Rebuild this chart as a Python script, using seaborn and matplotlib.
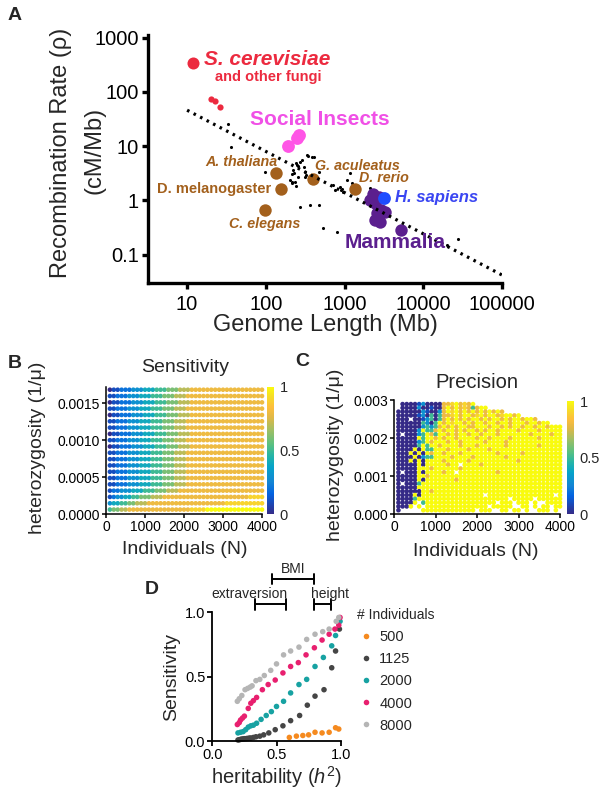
import numpy as np
import pandas as pd
import matplotlib
matplotlib.use("Agg")
import matplotlib.pyplot as plt
import seaborn as sns
from matplotlib.colors import LinearSegmentedColormap, Normalize
from matplotlib.cm import ScalarMappable

sns.set_style("ticks")
plt.rcParams['font.family'] = ['Liberation Sans', 'DejaVu Sans']
plt.rcParams['mathtext.fontset'] = 'custom'
plt.rcParams['mathtext.rm'] = 'Liberation Sans'
plt.rcParams['mathtext.it'] = 'Liberation Sans:italic'

# ---------------- Panel A data ----------------
fungi_big_x = [12]
fungi_big_y = [336]
fungi_small_x = [19.9, 22.8, 26]
fungi_small_y = [74, 68, 52]
insects_x = [190, 249, 267]
insects_y = [10.2, 14.3, 16]
brown_x = [134, 158, 99, 401, 1355]
brown_y = [3.15, 1.64, 0.67, 2.5, 1.6]
human_x = [3160]
human_y = [1.12]
mammal_x = [2330, 2760, 2470, 2920, 2470, 2860, 3270, 5140, 2085, 2610]
mammal_y = [1.31, 1.17, 0.88, 0.66, 0.43, 0.40, 0.62, 0.28, 1.0, 0.58]
other_x = [35.8, 33, 97, 218, 273, 362, 470, 526, 798, 342, 405, 273, 244, 305, 218,
           258, 324, 218, 480, 713, 754, 1186, 1060, 1254, 2083, 27300, 19900, 331, 383,
           286, 247, 223, 316, 316, 236, 204, 230, 240, 259, 880, 900, 930, 950]
other_y = [9.8, 25.5, 3.4, 2.2, 0.76, 0.82, 0.82, 0.31, 0.26, 6.6, 6.4, 5.2, 4.8, 4.2, 3.1,
           2.7, 2.9, 2.06, 3.4, 1.92, 1.55, 3.15, 2.37, 2.06, 1.66, 0.196, 0.15, 6.9, 6.4,
           5.5, 4.5, 3.6, 3.4, 2.7, 2.2, 2.37, 3.15, 1.86, 4.3, 1.75, 1.55, 1.65, 1.45]
trend_x = [10, 100000]
trend_y = [46, 0.042]

# ---------------- Panel B data (sensitivity grid) ----------------
b_n = [100, 200, 300, 400, 500, 600, 700, 800, 900, 1000, 1100, 1200, 1300, 1400,
       1500, 1600, 1700, 1800, 1900, 2000, 2100, 2200, 2300, 2400, 2500, 2600, 2700,
       2800, 2900, 3000, 3100, 3200, 3300, 3400, 3500, 3600, 3700, 3800, 3900, 4000]
b_het = [0.001683, 0.001598, 0.001512, 0.001427, 0.001341, 0.001256, 0.001170,
         0.001085, 0.001000, 0.000914, 0.000829, 0.000743, 0.000658, 0.000572,
         0.000487, 0.000402, 0.000316, 0.000231, 0.000145, 0.000060]
# one char per cell: value = hex digit / 10
b_rows = [
    "0112223334445556667778888888888888888888",
    "1122233344455566677788888888888888888888",
    "0112223334445556667778888888888888888888",
    "1122233344455566677788888888888888888888",
    "0112223334445556667778888888888888888888",
    "1122233344455566677788888888888888888888",
    "1122233344455566677788888888888888888888",
    "0112223334445556667778888888888888888888",
    "1122233344455566677788888888888888888888",
    "0112223334445556667778888888888888888888",
    "1122233344455566677788888888888888888888",
    "1122233344455566677788888888888888888888",
    "1122233344455566677788888888888888888888",
    "1122233344455566677788888888888888888888",
    "1122233344455566677788888888888888888888",
    "1122233344455566677788888888888888888888",
    "1223334445556667778888888888888888888888",
    "1233445566677788888888888888888888889999",
    "3445566777888888888888888888889999999999",
    "5667788888888888888889999aaaaaaaaaaaaaaa",
]

# ---------------- Panel C data (precision grid) ----------------
c_n = b_n
c_het = [0.0029, 0.0028, 0.0027, 0.0026, 0.0025, 0.0024, 0.0023, 0.0022, 0.0021, 0.0020,
         0.0019, 0.0018, 0.0017, 0.0016, 0.0015, 0.0014, 0.0013, 0.0012, 0.0011, 0.0010,
         0.0009, 0.0008, 0.0007, 0.0006, 0.0005, 0.0004, 0.0003, 0.0002, 0.0001]
c_rows = [
    ".000013000" "0889a898a." ".........." "..........",
    ".000030010" "08a8a89858" "aa........" "..........",
    "0000003100" "38a9a8a8a8" "a8a8a8...." "..........",
    "0000013050" "5889a8aa89" "a8aa89aa8a" "..........",
    "000.001350" "58a8a8a8aa" "8a8aa8a8aa" "8aa8......",
    "0000005305" "a8a9aa8a8a" "a8aa8aa8aa" "a8aa8aa...",
    "0000003535" "8a8a8aa88a" "aa8aa8a8aa" "8aa8aa8aaa",
    "000003a558" "a8aa8a8aa8" "a8aa8aaaa8" "aaaa8aaaaa",
    "0.00035a85" "aa8a8aa8aa" "8aaa8aaaaa" "aa8aaaa8aa",
    "00000a5aa8" "a8aa8aaaa8" "aa8aaaa8aa" "aaaa8aaaaa",
    "0000035a8a" "aa8aa8aaaa" "a8aaaa8aaa" "aaaaaaaaaa",
    "000005a5aa" "8aaaa8aaa8" "aaaaaa8aaa" "aaaa8aaaaa",
    "0000a0a55a" "aa8aaaa8aa" "aa8aaaaaaa" "aaaaaaaaaa",
    "000a0a0a8a" "a8aaa8aaaa" "aaaa8aaaaa" "8aaaaaaaaa",
    "0000a0355a" "aaa8aaaa8a" "aaaaaa8aaa" "aaaaaaaaaa",
    "000a0a0aaa" "a8aaaaa8aa" "aaaaaaaaa8" "aaaaaaaaaa",
    "00000a0aaa" "aa8aa.aaaa" "8aaaaaaaaa" "aaaaaaaaaa",
    "00000aaa8a" "aaaaa8aaaa" "aaaaaaaaaa" "aaaaaaaaaa",
    "0.000a0aaa" "a8aa.aaaaa" "aaaa8aaaaa" "aaaaaaaaaa",
    "00000aa8aa" "aaaaaaaaaa" "aaaaaaaaaa" "aaaaaaaaaa",
    "00000a0aaa" "aaaa8aaaaa" "aaaaaaaaaa" "aaaaaaaaaa",
    "0.0005aaaa" "aaaaaaaaaa" "aaaaaaaaaa" "aaaaaaaaaa",
    "00000aaaaa" "aaaaaaaaaa" "aaaaaaaaaa" "aaaaaaaaaa",
    "000000aa8a" "aaaaaaaaaa" "aaaaaaaaaa" "aaaaaaaaaa",
    "0000a0aaaa" "aaaaaaaaaa" "a.aaaaaaaa" "aaaaaaaa.a",
    "00005aaaaa" "aaaaaaaaaa" "aaaaaaa.aa" "aaa.aaaaaa",
    "0000a.5aaa" "aaaaaaaaaa" "aaaa.aaa.a" "aa.a..aaaa",
    "000a.a.aaa" "aaaaaaaaaa" "aa.aaaaa.." "aa.a.aa.aa",
    "0.....aaaa" "aaaaaaaaa." "aaa..aa.aa" ".a..aaa.a.",
]

# ---------------- Panel D data ----------------
d_labels = ['500', '1125', '2000', '4000', '8000']
d500_x = [0.60, 0.655, 0.705, 0.75, 0.80, 0.855, 0.91, 0.96, 0.985]
d500_y = [0.03, 0.04, 0.045, 0.05, 0.07, 0.065, 0.07, 0.105, 0.095]
d1125_x = [0.20, 0.21, 0.22, 0.23, 0.24, 0.25, 0.26, 0.27, 0.28, 0.29, 0.30, 0.32, 0.34,
           0.37, 0.40, 0.44, 0.49, 0.55, 0.61, 0.68, 0.74, 0.80, 0.87, 0.93, 0.96, 0.99]
d1125_y = [0.01, 0.012, 0.015, 0.017, 0.018, 0.02, 0.02, 0.022, 0.022, 0.025, 0.025, 0.03,
           0.035, 0.04, 0.05, 0.065, 0.09, 0.12, 0.16, 0.20, 0.28, 0.35, 0.40, 0.57, 0.70, 0.87]
d2000_x = [0.20, 0.22, 0.24, 0.26, 0.28, 0.30, 0.32, 0.345, 0.38, 0.42, 0.46, 0.50, 0.555,
           0.61, 0.675, 0.735, 0.80, 0.865, 0.93, 0.96, 0.995]
d2000_y = [0.065, 0.07, 0.075, 0.09, 0.11, 0.12, 0.125, 0.14, 0.17, 0.20, 0.23, 0.27, 0.31,
           0.375, 0.44, 0.48, 0.58, 0.65, 0.74, 0.82, 0.93]
d4000_x = [0.195, 0.21, 0.22, 0.235, 0.25, 0.28, 0.30, 0.32, 0.345, 0.39, 0.435, 0.49, 0.55,
           0.61, 0.67, 0.73, 0.795, 0.855, 0.91, 0.955, 0.985, 0.995]
d4000_y = [0.13, 0.145, 0.165, 0.18, 0.195, 0.255, 0.295, 0.315, 0.34, 0.40, 0.44, 0.475,
           0.53, 0.58, 0.61, 0.67, 0.725, 0.785, 0.83, 0.87, 0.90, 0.96]
d8000_x = [0.195, 0.21, 0.23, 0.255, 0.275, 0.295, 0.31, 0.34, 0.37, 0.405, 0.455, 0.50,
           0.555, 0.61, 0.675, 0.735, 0.80, 0.86, 0.91, 0.965, 0.985]
d8000_y = [0.31, 0.33, 0.355, 0.40, 0.41, 0.42, 0.43, 0.47, 0.48, 0.51, 0.55, 0.60, 0.67,
           0.70, 0.73, 0.79, 0.83, 0.85, 0.87, 0.93, 0.96]
d_colors = ['#f58a1f', '#454545', '#17a2a2', '#e8206f', '#b5b5b5']
trait_labels = ['extraversion', 'BMI', 'height']
trait_ranges = [(0.335, 0.574), (0.465, 0.792), (0.792, 0.925)]

# ---------------- colormap (parula-like) ----------------
parula = LinearSegmentedColormap.from_list('parula', [
    (0.00, (0.2081, 0.1663, 0.5292)),
    (0.16, (0.0117, 0.3875, 0.8820)),
    (0.25, (0.0780, 0.5200, 0.8311)),
    (0.37, (0.0232, 0.6407, 0.7888)),
    (0.46, (0.1540, 0.7106, 0.6488)),
    (0.55, (0.3546, 0.7536, 0.5041)),
    (0.67, (0.6473, 0.7469, 0.3872)),
    (0.76, (0.8753, 0.7223, 0.2785)),
    (0.84, (0.9932, 0.7441, 0.2394)),
    (0.92, (0.9643, 0.8586, 0.1613)),
    (1.00, (0.9763, 0.9831, 0.0538)),
])

W, H = 603, 798
fig = plt.figure(figsize=(W / 100, H / 100), dpi=100)


def fx(px):
    return px / W


def fy(py):
    return 1 - py / H


def axes_px(l, t, r, b):
    return fig.add_axes([fx(l), fy(b), (r - l) / W, (b - t) / H])


def style_axes(ax, lw, ticklen, labelsize, pad):
    sns.despine(ax=ax)
    for s in ['left', 'bottom']:
        ax.spines[s].set_linewidth(lw)
        ax.spines[s].set_color('black')
    ax.tick_params(axis='both', which='major', length=ticklen, width=lw,
                   labelsize=labelsize, pad=pad, colors='black', direction='out')
    ax.tick_params(axis='both', which='minor', length=0)


# ================= Panel A =================
axA = axes_px(147.7, 35, 502, 282.7)
axA.set_xscale('log')
axA.set_yscale('log')
axA.set_xlim(3.16, 100000)
axA.set_ylim(0.0303, 1120)
sns.lineplot(x=trend_x, y=trend_y, ax=axA, color='black', lw=2.3,
             linestyle=(0, (0.8, 1.5)))
sns.scatterplot(x=other_x, y=other_y, ax=axA, color='black', s=5, linewidth=0)
sns.scatterplot(x=fungi_big_x, y=fungi_big_y, ax=axA, color='#ec2a3f', s=75, linewidth=0)
sns.scatterplot(x=fungi_small_x, y=fungi_small_y, ax=axA, color='#ec2a3f', s=20, linewidth=0)
sns.scatterplot(x=insects_x, y=insects_y, ax=axA, color='#ff55e6', s=85, linewidth=0)
sns.scatterplot(x=brown_x, y=brown_y, ax=axA, color='#a3601c', s=80, linewidth=0)
sns.scatterplot(x=mammal_x, y=mammal_y, ax=axA, color='#5b1f8e', s=80, linewidth=0)
sns.scatterplot(x=human_x, y=human_y, ax=axA, color='#1f4dff', s=85, linewidth=0)
axA.set_xticks([10, 100, 1000, 10000, 100000])
axA.set_xticklabels(['10', '100', '1000', '10000', '100000'])
axA.set_yticks([0.1, 1, 10, 100, 1000])
axA.set_yticklabels(['0.1', '1', '10', '100', '1000'])
axA.set_xlabel('')
axA.set_ylabel('')
style_axes(axA, 2.4, 4.5, 14.5, 2)
axA.tick_params(axis='x', pad=4)

red = '#ec2a3f'
brown = '#a3601c'
axA.text(16.3, 390, 'S. cerevisiae', color=red, fontsize=15, fontweight='bold',
         fontstyle='italic', va='center', ha='left')
axA.text(107, 186, 'and other fungi', color=red, fontsize=10.5, fontweight='bold',
         va='center', ha='center')
axA.text(485, 31, 'Social Insects', color='#f050e6', fontsize=15, fontweight='bold',
         va='center', ha='center')
axA.text(142, 5.2, 'A. thaliana', color=brown, fontsize=10.3, fontweight='bold',
         fontstyle='italic', va='center', ha='right')
axA.text(418, 4.3, 'G. aculeatus', color=brown, fontsize=10.3, fontweight='bold',
         fontstyle='italic', va='center', ha='left')
axA.text(1516, 2.55, 'D. rerio', color=brown, fontsize=10.3, fontweight='bold',
         fontstyle='italic', va='center', ha='left')
axA.text(117, 1.64, 'D. melanogaster', color=brown, fontsize=10.5, fontweight='bold',
         va='center', ha='right')
axA.text(96, 0.366, 'C. elegans', color=brown, fontsize=10.3, fontweight='bold',
         fontstyle='italic', va='center', ha='center')
axA.text(4340, 1.12, 'H. sapiens', color='#3a46f2', fontsize=12, fontweight='bold',
         fontstyle='italic', va='center', ha='left')
axA.text(1000, 0.168, 'Mammalia', color='#5b1f8e', fontsize=15, fontweight='bold',
         va='center', ha='left')

fig.text(fx(61.5), fy(153), 'Recombination Rate (\u03c1)', rotation=90, fontsize=17,
         ha='center', va='center')
fig.text(fx(94), fy(150), '(cM/Mb)', rotation=90, fontsize=17, ha='center', va='center')
fig.text(fx(325), fy(325), 'Genome Length (Mb)', fontsize=17, ha='center', va='center')
fig.text(fx(15), fy(16), 'A', fontsize=14, fontweight='bold', ha='center', va='center')

# ================= Panel B =================
recs = []
for het, row in zip(b_het, b_rows):
    for n, ch in zip(b_n, row):
        recs.append((n, het, int(ch, 16) / 10))
dfB = pd.DataFrame(recs, columns=['N', 'het', 'v'])
axB = axes_px(106, 387, 262, 514)
sns.scatterplot(data=dfB, x='N', y='het', hue='v', palette=parula, hue_norm=(0, 1),
                legend=False, s=11, linewidth=0, ax=axB, clip_on=False)
axB.set_xlim(0, 4000)
axB.set_ylim(0, 0.00172)
axB.set_xticks([0, 1000, 2000, 3000, 4000])
axB.set_yticks([0, 0.0005, 0.0010, 0.0015])
axB.set_yticklabels(['0.0000', '0.0005', '0.0010', '0.0015'])
axB.set_xlabel('')
axB.set_ylabel('')
style_axes(axB, 1.1, 3, 10, 1.5)

caxB = axes_px(267, 387, 274, 514)
cbB = fig.colorbar(ScalarMappable(norm=Normalize(0, 1), cmap=parula), cax=caxB)
cbB.outline.set_visible(False)
cbB.set_ticks([0, 0.5, 1])
cbB.set_ticklabels(['0', '0.5', '1'])
caxB.tick_params(length=0, labelsize=10.5, pad=4)

fig.text(fx(15), fy(363), 'B', fontsize=14, fontweight='bold', ha='center', va='center')
fig.text(fx(185), fy(368), 'Sensitivity', fontsize=14, ha='center', va='center')
fig.text(fx(38), fy(448), 'heterozygosity (1/\u03bc)', fontsize=14, rotation=90,
         ha='center', va='center')
fig.text(fx(185), fy(550), 'Individuals (N)', fontsize=14, ha='center', va='center')

# ================= Panel C =================
recs = []
for het, row in zip(c_het, c_rows):
    for n, ch in zip(c_n, row):
        if ch != '.':
            recs.append((n, het, int(ch, 16) / 10))
dfC = pd.DataFrame(recs, columns=['N', 'het', 'v'])
axC = axes_px(394.3, 400.3, 560, 514)
sns.scatterplot(data=dfC, x='N', y='het', hue='v', palette=parula, hue_norm=(0, 1),
                legend=False, s=11, marker='o', linewidth=0, ax=axC, clip_on=False)
axC.set_xlim(0, 4000)
axC.set_ylim(0, 0.003)
axC.set_xticks([0, 1000, 2000, 3000, 4000])
axC.set_yticks([0, 0.001, 0.002, 0.003])
axC.set_yticklabels(['0.000', '0.001', '0.002', '0.003'])
axC.set_xlabel('')
axC.set_ylabel('')
style_axes(axC, 1.1, 3, 10, 1.5)

caxC = axes_px(567, 401, 574, 514)
cbC = fig.colorbar(ScalarMappable(norm=Normalize(0, 1), cmap=parula), cax=caxC)
cbC.outline.set_visible(False)
cbC.set_ticks([0, 0.5, 1])
cbC.set_ticklabels(['0', '0.5', '1'])
caxC.tick_params(length=0, labelsize=10.5, pad=4)

fig.text(fx(302), fy(362), 'C', fontsize=14, fontweight='bold', ha='center', va='center')
fig.text(fx(477), fy(382), 'Precision', fontsize=14.5, ha='center', va='center')
fig.text(fx(335), fy(455), 'heterozygosity (1/\u03bc)', fontsize=14, rotation=90,
         ha='center', va='center')
fig.text(fx(476), fy(552), 'Individuals (N)', fontsize=14, ha='center', va='center')

# ================= Panel D =================
series = [(d500_x, d500_y), (d1125_x, d1125_y), (d2000_x, d2000_y),
          (d4000_x, d4000_y), (d8000_x, d8000_y)]
recs = []
for lab, (xs, ys) in zip(d_labels, series):
    for x, y in zip(xs, ys):
        recs.append((x, y, lab))
dfD = pd.DataFrame(recs, columns=['h2', 'sens', 'ind'])
axD = axes_px(212.3, 612.3, 340.7, 741.3)
sns.scatterplot(data=dfD, x='h2', y='sens', hue='ind', hue_order=d_labels,
                palette=d_colors, s=16, linewidth=0, ax=axD, clip_on=False)
axD.set_xlim(0, 1)
axD.set_ylim(0, 1)
axD.set_xticks([0, 0.5, 1])
axD.set_xticklabels(['0.0', '0.5', '1.0'])
axD.set_yticks([0, 0.5, 1])
axD.set_yticklabels(['0.0', '0.5', '1.0'])
axD.set_xlabel('')
axD.set_ylabel('')
style_axes(axD, 1.3, 3.5, 10.5, 1.5)

leg = axD.legend(title='# Individuals', loc='upper left', bbox_to_anchor=(1.13, 1.03),
                 frameon=False, fontsize=10.5, title_fontsize=10, handletextpad=0.3,
                 handlelength=1.2, labelspacing=0.55, borderpad=0, borderaxespad=0)
leg._legend_box.align = 'left'

bracket_y = [1.061, 1.256, 1.061]
for lab, (x0, x1), yb in zip(trait_labels, trait_ranges, bracket_y):
    axD.plot([x0, x1], [yb, yb], color='black', lw=1.4, clip_on=False)
    axD.plot([x0, x0], [yb - 0.04, yb + 0.04], color='black', lw=1.4, clip_on=False)
    axD.plot([x1, x1], [yb - 0.04, yb + 0.04], color='black', lw=1.4, clip_on=False)
axD.text(0.587, 1.14, 'extraversion', fontsize=10, ha='right', va='center')
axD.text(0.77, 1.14, 'height', fontsize=10, ha='left', va='center')
axD.text(0.628, 1.335, 'BMI', fontsize=10, ha='center', va='center')

fig.text(fx(152), fy(590), 'D', fontsize=14, fontweight='bold', ha='center', va='center')
fig.text(fx(172), fy(677), 'Sensitivity', fontsize=14, rotation=90, ha='center', va='center')
fig.text(fx(277), fy(777), 'heritability ($\\mathit{h}^{2}$)', fontsize=14.5,
         ha='center', va='center')

fig.savefig('out.png', dpi=100)
